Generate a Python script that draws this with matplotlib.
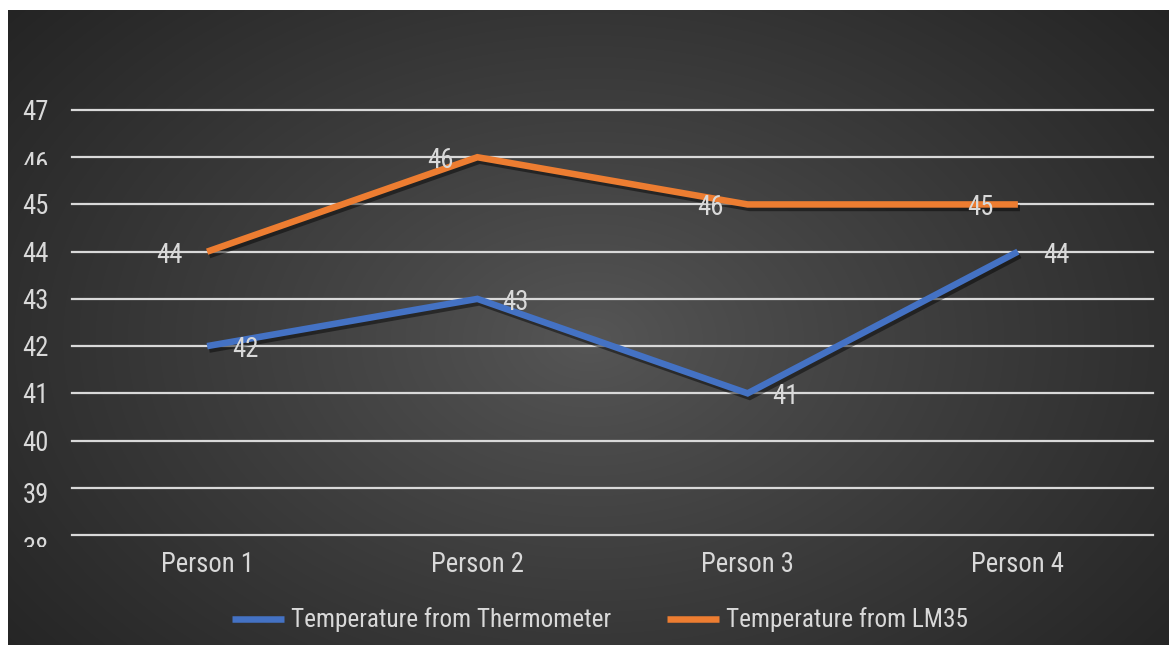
import numpy as np
import matplotlib
matplotlib.use("Agg")
import matplotlib.pyplot as plt
from matplotlib import font_manager, transforms, patheffects as pe
from matplotlib.lines import Line2D
from matplotlib.transforms import Bbox
from matplotlib.textpath import TextPath
from matplotlib.font_manager import FontProperties

# ---------------- data ----------------
categories = ["Person 1", "Person 2", "Person 3", "Person 4"]
thermometer = [42, 43, 41, 44]
lm35 = [44, 46, 45, 45]
thermometer_labels = ["42", "43", "41", "44"]
lm35_labels = ["44", "46", "46", "45"]
yticks = [38, 39, 40, 41, 42, 43, 44, 45, 46, 47]
series_names = ["Temperature from Thermometer", "Temperature from LM35"]

# ---------------- style ----------------
W, H, DPI = 1169, 645, 100
BLUE = "#4472C4"
ORANGE = "#ED7D31"
TXT = "#D9D9D9"
GRID = "#D9D9D9"

names = {f.name for f in font_manager.fontManager.ttflist}
FONT = "DejaVu Sans"
for cand in ["Liberation Sans Narrow", "Roboto Condensed", "Roboto", "Lato", "Open Sans"]:
    if cand in names:
        FONT = cand
        break
plt.rcParams["font.family"] = [FONT, "DejaVu Sans"]

# font size chosen so that "Person 1" is ~86 px wide
tp = TextPath((0, 0), "Person 1", size=10, prop=FontProperties(family=FONT))
w10 = tp.get_extents().width * DPI / 72.0
FS = 10 * 86.0 / w10
# legend font so that the first entry text is ~319 px wide
tp2 = TextPath((0, 0), series_names[0], size=10, prop=FontProperties(family=FONT))
LFS = 10 * 319.0 / (tp2.get_extents().width * DPI / 72.0)

fig = plt.figure(figsize=(W / DPI, H / DPI), dpi=DPI, facecolor="white")

# background panel with radial gradient
bg = fig.add_axes([8 / W, 0, (W - 8) / W, (H - 10) / H], zorder=0)
bg.set_axis_off()
nx, ny = 600, 330
xs = np.linspace(8, W, nx)
ys = np.linspace(10, H, ny)
X, Y = np.meshgrid(xs, ys)
cx, cy = 590, 340
r = np.sqrt(((X - cx) / 760.0) ** 2 + ((Y - cy) / 520.0) ** 2)
r = np.clip(r, 0, 1)
c0, c1 = 86 / 255, 36 / 255
val = c0 + (c1 - c0) * r ** 0.9
img = np.dstack([val, val, val])
bg.imshow(img, extent=[0, 1, 0, 1], aspect="auto", origin="upper",
          interpolation="bilinear")
bg.set_xlim(0, 1)
bg.set_ylim(0, 1)

# plot axes: x 72..1153 px, y(47)=110 px, y(38)=535 px
x0, x1 = 72, 1153
ytop, ybot = 110, 535
ax = fig.add_axes([x0 / W, (H - ybot) / H, (x1 - x0) / W, (ybot - ytop) / H], zorder=1)
ax.set_facecolor("none")
ax.set_xlim(-0.5, len(categories) - 0.5)
ax.set_ylim(yticks[0], yticks[-1])
for s in ax.spines.values():
    s.set_visible(False)
ax.set_xticks([])
ax.set_yticks([])

for v in yticks:
    ax.axhline(v, color=GRID, lw=1.6, zorder=1, clip_on=False)

xs_idx = np.arange(len(categories))
shadow = [pe.SimpleLineShadow(offset=(1.5, -2.5), shadow_color="black", alpha=0.45),
          pe.Normal()]
ax.plot(xs_idx, thermometer, color=BLUE, lw=4.7, solid_capstyle="butt",
        solid_joinstyle="miter", zorder=3, path_effects=shadow, clip_on=False)
ax.plot(xs_idx, lm35, color=ORANGE, lw=4.7, solid_capstyle="butt",
        solid_joinstyle="miter", zorder=3, path_effects=shadow, clip_on=False)

# data labels
for i, (v, lab) in enumerate(zip(thermometer, thermometer_labels)):
    tr = transforms.offset_copy(ax.transData, fig=fig, x=25, y=-11, units="dots")
    ax.text(i, v, lab, transform=tr, ha="left", va="baseline", color=TXT,
            fontsize=FS, zorder=4)
for i, (v, lab) in enumerate(zip(lm35, lm35_labels)):
    tr = transforms.offset_copy(ax.transData, fig=fig, x=-24, y=-11, units="dots")
    ax.text(i, v, lab, transform=tr, ha="right", va="baseline", color=TXT,
            fontsize=FS, zorder=4)

# y tick labels (drawn as text, a couple are clipped like the original)
ydrop = {38: 22, 39: 15, 46: 15}
yclip = {38: 547, 46: 165}
for v in yticks:
    tr = transforms.offset_copy(ax.get_yaxis_transform(), fig=fig, x=-23,
                                y=-ydrop.get(v, 10), units="dots")
    t = ax.text(0, v, str(v), transform=tr, ha="right", va="baseline",
                color=TXT, fontsize=FS, clip_on=False)
    if v in yclip:
        cy_px = H - yclip[v]
        t.set_clip_box(Bbox([[0, cy_px], [W, H]]))
        t.set_clip_on(True)

# category labels
ctr = transforms.blended_transform_factory(ax.transData, fig.transFigure)
for i, c in enumerate(categories):
    ax.text(i, (H - 572) / H, c, transform=ctr, ha="center", va="baseline",
            color=TXT, fontsize=FS, clip_on=False)

# legend
handles = [Line2D([], [], color=BLUE, lw=4.7, solid_capstyle="butt"),
           Line2D([], [], color=ORANGE, lw=4.7, solid_capstyle="butt")]
em_px = LFS * DPI / 72.0
leg = fig.legend(handles, series_names, loc="center",
                 bbox_to_anchor=(600 / W, (H - 620) / H), ncol=2, frameon=False,
                 fontsize=LFS, handlelength=52 / em_px, handletextpad=7 / em_px,
                 columnspacing=56 / em_px, borderpad=0, borderaxespad=0)
for t in leg.get_texts():
    t.set_color(TXT)

fig.savefig("out.png", dpi=DPI, facecolor="white")
